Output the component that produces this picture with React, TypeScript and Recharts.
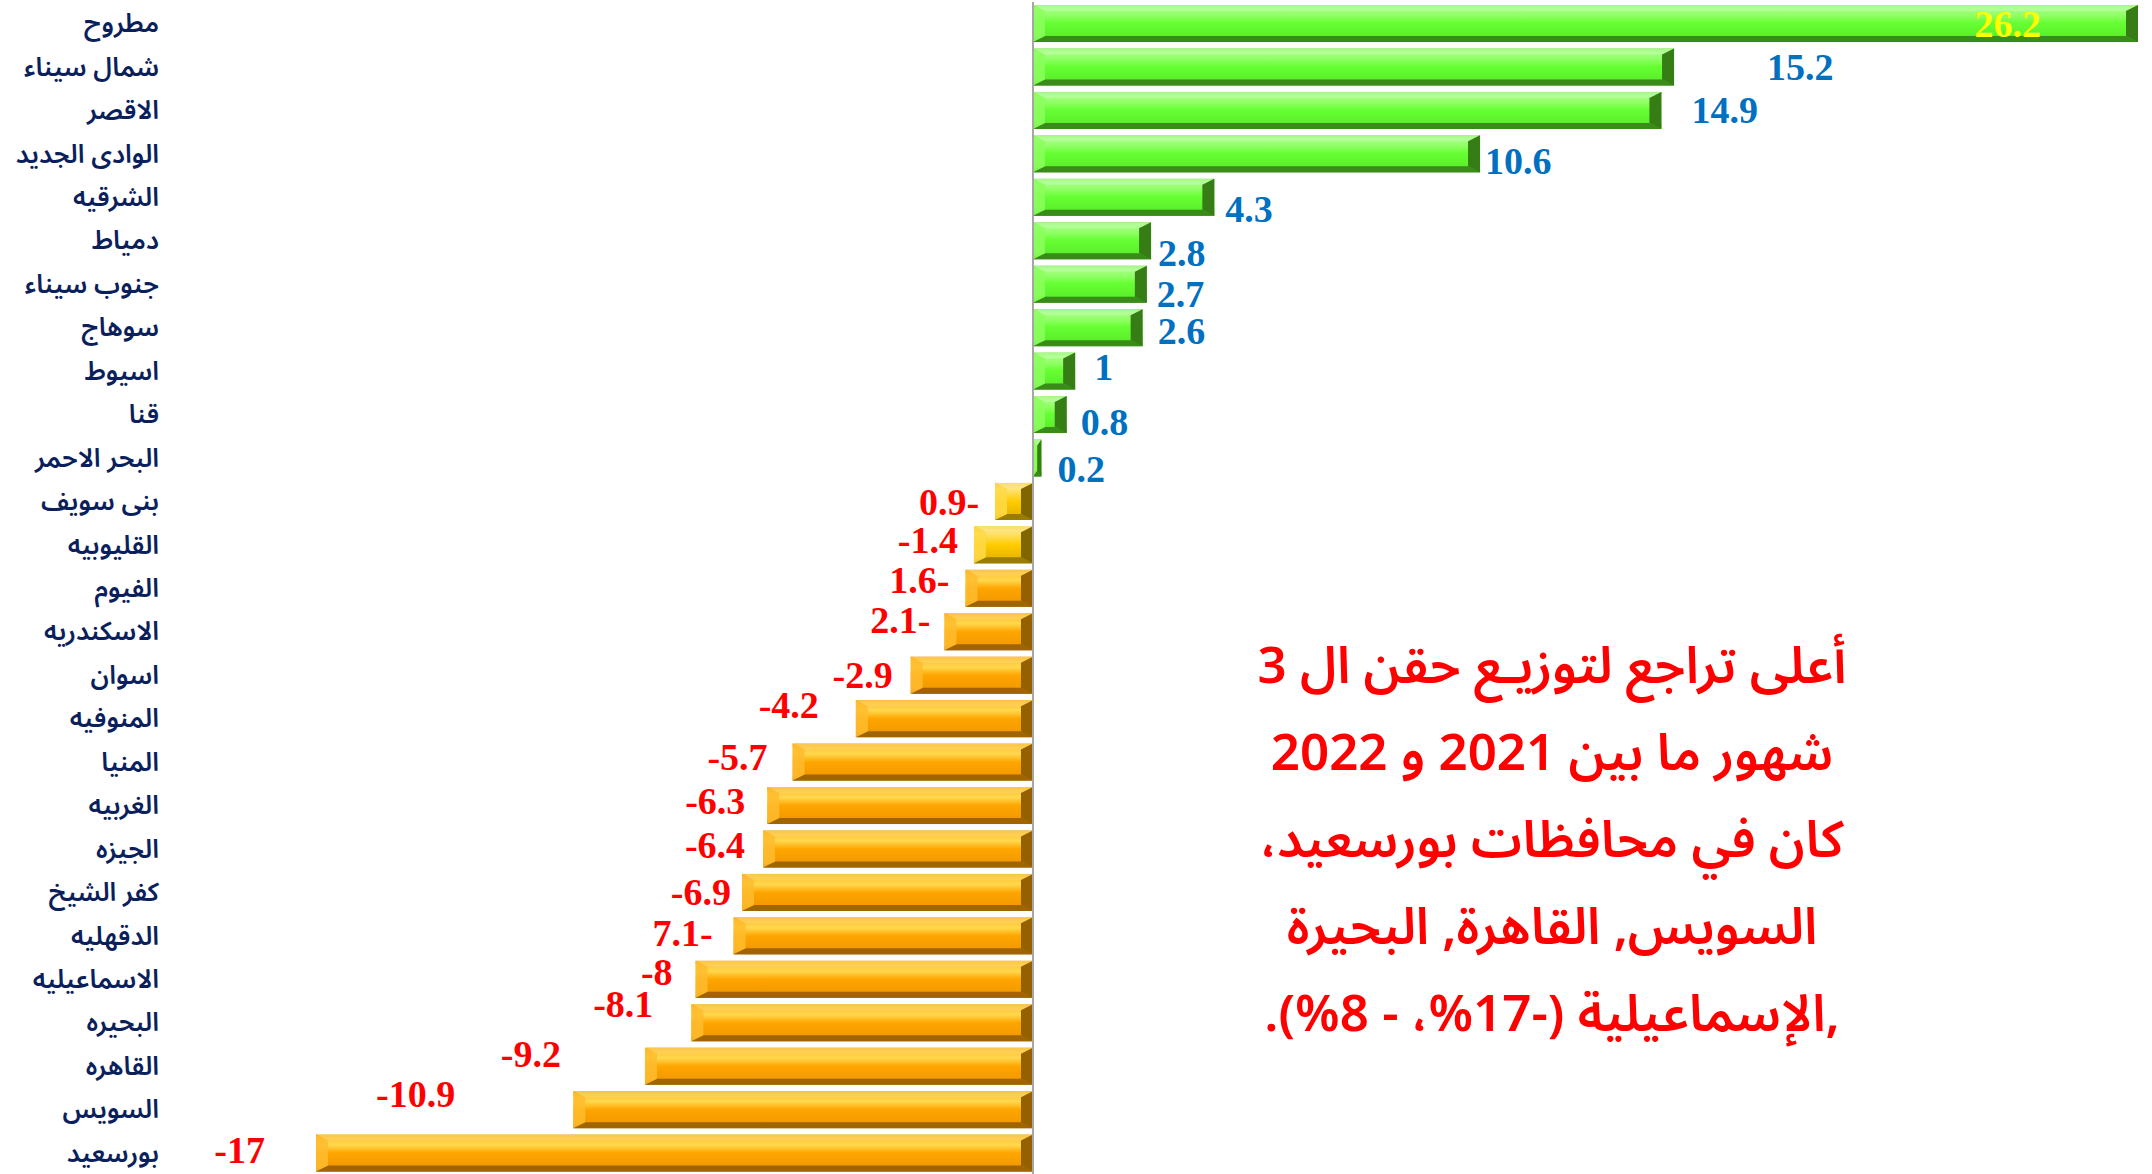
import React from "react";
import { Bar, BarChart, LabelList, ReferenceLine, XAxis, YAxis } from "recharts";

// governorates, top to bottom
const GOVS = [
  "مطروح",
  "شمال سيناء",
  "الاقصر",
  "الوادى الجديد",
  "الشرقيه",
  "دمياط",
  "جنوب سيناء",
  "سوهاج",
  "اسيوط",
  "قنا",
  "البحر الاحمر",
  "بنى سويف",
  "القليوبيه",
  "الفيوم",
  "الاسكندريه",
  "اسوان",
  "المنوفيه",
  "المنيا",
  "الغربيه",
  "الجيزه",
  "كفر الشيخ",
  "الدقهليه",
  "الاسماعيليه",
  "البحيره",
  "القاهره",
  "السويس",
  "بورسعيد",
];

const CHANGE = [
  26.2, 15.2, 14.9, 10.6, 4.3, 2.8, 2.7, 2.6, 1, 0.8, 0.2, -0.9, -1.4, -1.6,
  -2.1, -2.9, -4.2, -5.7, -6.3, -6.4, -6.9, -7.1, -8, -8.1, -9.2, -10.9, -17,
];

// labels as printed in the slide (some minus signs ended up on the right)
const VALUE_TEXT = [
  "26.2", "15.2", "14.9", "10.6", "4.3", "2.8", "2.7", "2.6", "1", "0.8",
  "0.2", "0.9-", "-1.4", "1.6-", "2.1-", "-2.9", "-4.2", "-5.7", "-6.3",
  "-6.4", "-6.9", "7.1-", "-8", "-8.1", "-9.2", "-10.9", "-17",
];

// hand-placed label offsets: [gap from bar end, vertical shift]
const LABEL_NUDGE: [number, number][] = [
  [97, 0], [93, 0], [30, 0], [5, 7], [11, 12], [7, 12], [10, 10], [15, 3],
  [19, -4], [14, 7], [16, 11],
  [16, 1], [16, -5], [16, -8], [14, -12], [18, 0], [37, -14], [25, -5],
  [22, -5], [18, -4], [11, 0], [21, -3], [23, -7], [38, -19], [84, -12],
  [118, -16], [51, -3],
];

const NOTE_LINES = [
  "أعلى تراجع لتوزيـع حقن ال 3",
  "شهور ما بين 2021 و 2022",
  "كان في محافظات بورسعيد،",
  "السويس, القاهرة, البحيرة",
  ",الإسماعيلية (-17%، - 8%).",
];

const data = GOVS.map((name, i) => ({ name, value: CHANGE[i] }));

const ARABIC = '"Noto Sans Arabic", "Noto Sans Arabic UI", "DejaVu Sans", sans-serif';

const PAL = {
  green: {
    stops: [
      [0, "#5fd62f"], [0.1, "#a8ff86"], [0.3, "#8dff62"], [0.48, "#66ff33"],
      [0.82, "#5cf02c"], [1, "#3b9a1a"],
    ],
    top: "#b6ff9c", bottom: "#3a8c18", left: "#8cff5e", right: "#357d14",
  },
  orange: {
    stops: [
      [0, "#e39300"], [0.14, "#ffc83a"], [0.28, "#ffd84e"], [0.5, "#ffa500"],
      [0.84, "#f39a00"], [1, "#a46800"],
    ],
    top: "#ffd25e", bottom: "#a06400", left: "#ffbc2e", right: "#946000",
  },
  yellow: {
    stops: [
      [0, "#e2b400"], [0.18, "#ffe272"], [0.5, "#ffcc00"], [0.84, "#e9b600"],
      [1, "#957500"],
    ],
    top: "#ffe88a", bottom: "#9a7c00", left: "#ffd948", right: "#806600",
  },
};

function BevelBar(props: any) {
  const { x, y, width, height, index } = props;
  const x0 = Math.min(x, x + width);
  const w = Math.abs(width);
  const h = height;
  if (!w || !h) return null;
  const v = CHANGE[index];
  const pal = v >= 0 ? PAL.green : v > -1.5 ? PAL.yellow : PAL.orange;
  const be = Math.min(12, w / 2);
  const bt = Math.min(6, h / 4);
  const x1 = x0 + w;
  const y1 = y + h;
  const id = `bev-${index}`;
  return (
    <g>
      <defs>
        <linearGradient id={id} x1="0" y1="0" x2="0" y2="1">
          {pal.stops.map(([o, c]) => (
            <stop key={o as number} offset={o as number} stopColor={c as string} />
          ))}
        </linearGradient>
      </defs>
      <rect x={x0} y={y} width={w} height={h} fill={`url(#${id})`} />
      <polygon
        points={`${x0},${y} ${x1},${y} ${x1 - be},${y + bt} ${x0 + be},${y + bt}`}
        fill={pal.top}
        opacity={0.8}
      />
      <polygon
        points={`${x0},${y1} ${x1},${y1} ${x1 - be},${y1 - bt} ${x0 + be},${y1 - bt}`}
        fill={pal.bottom}
      />
      <polygon
        points={`${x0},${y} ${x0 + be},${y + bt} ${x0 + be},${y1 - bt} ${x0},${y1}`}
        fill={pal.left}
        opacity={0.85}
      />
      <polygon
        points={`${x1},${y} ${x1 - be},${y + bt} ${x1 - be},${y1 - bt} ${x1},${y1}`}
        fill={pal.right}
      />
    </g>
  );
}

function ValueLabel(props: any) {
  const { x, y, width, height, index } = props;
  const left = Math.min(x, x + width);
  const right = Math.max(x, x + width);
  const [gap, dy] = LABEL_NUDGE[index];
  const v = CHANGE[index];
  const cy = y + height / 2 + dy;
  const common = {
    fontFamily: '"Times New Roman", "Liberation Serif", serif',
    fontWeight: 700,
    fontSize: 38,
    dominantBaseline: "central" as const,
  };
  if (index === 0) {
    return (
      <text x={right - gap} y={cy} textAnchor="end" fill="#FFFF00" {...common}>
        {VALUE_TEXT[index]}
      </text>
    );
  }
  if (v >= 0) {
    return (
      <text x={right + gap} y={cy} textAnchor="start" fill="#0070C0" {...common}>
        {VALUE_TEXT[index]}
      </text>
    );
  }
  return (
    <text x={left - gap} y={cy} textAnchor="end" fill="#FF0000" {...common}>
      {VALUE_TEXT[index]}
    </text>
  );
}

function GovTick(props: any) {
  const { y, payload } = props;
  return (
    <text
      x={159}
      y={y}
      textAnchor="end"
      dominantBaseline="central"
      fill="#0b1f5c"
      fontFamily={ARABIC}
      fontSize={26}
      fontWeight={600}
    >
      {payload.value}
    </text>
  );
}

export default function App() {
  return (
    <div
      style={{
        position: "absolute",
        left: 0,
        top: 0,
        width: 2152,
        height: 1174,
        overflow: "hidden",
        background: "#ffffff",
      }}
    >
      <BarChart
        width={2152}
        height={1176}
        data={data}
        layout="vertical"
        margin={{ top: 2, right: 14, bottom: 1, left: 0 }}
        barCategoryGap="7%"
      >
        <XAxis type="number" domain={[-17, 26.2]} hide />
        <YAxis
          type="category"
          dataKey="name"
          width={316}
          axisLine={false}
          tickLine={false}
          interval={0}
          tick={<GovTick />}
        />
        <ReferenceLine x={0} stroke="#a6a6a6" strokeWidth={2} />
        <Bar dataKey="value" shape={<BevelBar />} isAnimationActive={false}>
          <LabelList dataKey="value" content={<ValueLabel />} />
        </Bar>
      </BarChart>
      <div
        style={{
          position: "absolute",
          left: 1202,
          top: 624,
          width: 700,
          textAlign: "center",
          direction: "rtl",
          color: "#FF0000",
          fontFamily: ARABIC,
          fontSize: 51,
          fontWeight: 600,
          lineHeight: "87px",
        }}
      >
        {NOTE_LINES.map((l) => (
          <div key={l}>{l}</div>
        ))}
      </div>
    </div>
  );
}
